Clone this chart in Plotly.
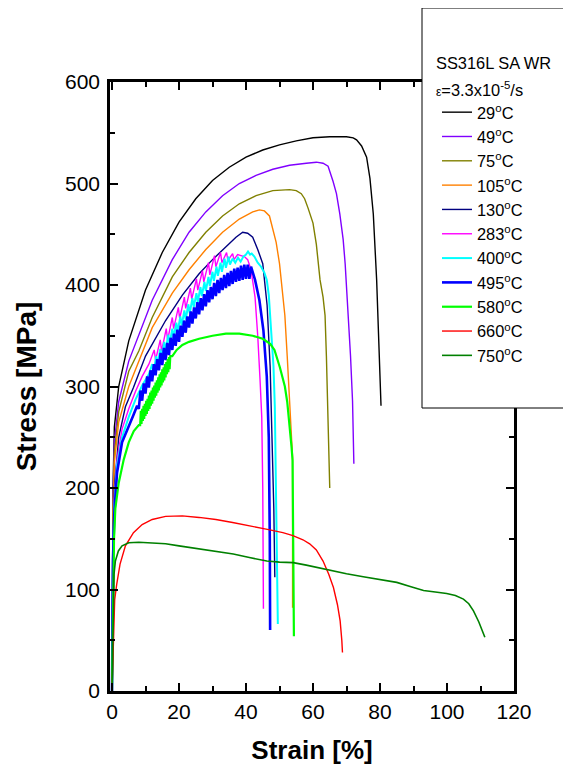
import plotly.graph_objects as go

# ---------------- data (strain %, stress MPa) ----------------
strain_29 = [0, 0.3, 0.7, 2, 5, 10, 15, 20, 25, 30, 35, 40, 45, 50, 55, 60, 65, 68, 70, 72, 73, 74.5, 76, 77, 78, 79, 79.5, 80, 80.3]
stress_29 = [0, 200, 260, 300, 345, 395, 432, 462, 485, 503, 516, 526, 533, 538, 542, 545, 546, 546, 546, 545, 543, 537, 526, 505, 470, 405, 355, 310, 281]

strain_49 = [0, 0.3, 0.7, 2, 5, 8, 12, 18, 23, 28, 33, 38, 43, 48, 53, 58, 61, 63, 64.5, 66, 67, 68, 69, 69.6, 70.5, 71.2, 71.8, 72.2]
stress_49 = [0, 190, 245, 285, 325, 350, 385, 425, 452, 472, 488, 500, 508, 514, 518, 520, 521, 520, 517, 502, 490, 470, 445, 421, 371, 330, 286, 224]

strain_75 = [0, 0.3, 0.7, 2, 5, 8, 12, 18, 23, 28, 33, 38, 43, 48, 53, 55, 56.5, 57.5, 58.5, 60, 61, 62.1, 63, 63.6, 64, 64.5, 65]
stress_75 = [0, 180, 235, 275, 315, 335, 368, 408, 432, 452, 468, 480, 488, 493, 494, 493, 490, 485, 476, 461, 440, 405, 388, 370, 330, 270, 200]

strain_105 = [0, 0.3, 0.7, 2, 5, 8, 12, 18, 23, 28, 33, 38, 42, 44, 45.5, 47, 48, 49, 50, 51, 51.6, 52.3, 53, 53.5, 53.9, 53.9]
stress_105 = [0, 170, 225, 265, 300, 325, 358, 392, 415, 435, 452, 465, 472, 474, 473, 468, 456, 442, 421, 392, 370, 330, 290, 255, 230, 82]

strain_130 = [0, 0.3, 0.7, 2, 4, 6.4, 10, 16, 21, 26, 30, 34, 37, 39, 40.5, 42, 43.5, 45, 46.3, 47.2, 47.8, 48.3, 48.6]
stress_130 = [0, 150, 200, 250, 280, 299, 330, 365, 390, 411, 425, 438, 447, 452, 451, 447, 435, 421, 380, 320, 253, 180, 112]

strain_283 = [0, 0.3, 0.7, 1.5, 3, 5, 7, 9, 11,
              12.6, 13.0, 14.4, 14.8, 16.2, 16.6, 18.0, 18.4, 19.8, 20.2, 21.6, 22.0, 23.4, 23.8,
              25.2, 25.6, 27.0, 27.4, 28.8, 29.2, 30.6, 31.0, 32.4, 32.8, 34.2, 34.6, 36.0, 36.4,
              37.5, 38.5, 39.5, 40.5, 41.5, 42.7, 43.5, 44.2, 44.7, 45.0, 45.2]
stress_283 = [0, 140, 190, 228, 258, 278, 295, 310, 322,
              336, 326, 346, 335, 357, 346, 368, 357, 378, 367, 388, 377, 397, 386,
              406, 395, 414, 403, 422, 410, 429, 418, 432, 422, 432, 424, 431, 425,
              430, 429, 428, 425, 415, 388, 350, 306, 270, 200, 81]

strain_400 = [0, 0.3, 0.7, 1.5, 3, 5, 7, 9, 11,
              12.0, 12.4, 13.2, 13.6, 14.4, 14.8, 15.6, 16.0, 16.8, 17.2, 18.0, 18.4, 19.2, 19.6,
              20.4, 20.8, 21.6, 22.0, 22.8, 23.2, 24.0, 24.4, 25.2, 25.6, 26.4, 26.8, 27.6, 28.0,
              28.8, 29.2, 30.0, 30.4, 31.2, 31.6, 32.4, 32.8, 33.6, 34.0, 34.8, 35.2, 36.0, 36.8,
              37.6, 38.4, 39.2, 40.0, 40.6, 41.2, 41.7,
              42.5, 43.5, 44.5, 45.5, 46.2, 46.8, 47.3, 47.8, 48.2, 48.6, 49.0, 49.3, 49.5]
stress_400 = [0, 135, 182, 222, 250, 270, 287, 301, 312,
              322, 314, 330, 321, 337, 328, 344, 335, 351, 342, 357, 348, 363, 354,
              369, 360, 375, 366, 381, 372, 387, 378, 392, 383, 398, 389, 403, 394,
              408, 399, 413, 404, 418, 409, 422, 413, 426, 417, 428, 420, 426, 422,
              427, 423, 428, 430, 433, 430, 431,
              428, 422, 418, 412, 405, 390, 365, 340, 320, 280, 200, 130, 66]

strain_495 = [0, 0.3, 0.7, 1.5, 3, 5, 6.4, 7.5,
              8.0, 8.5, 9.0, 9.5, 10.0, 10.5, 11.0, 11.5, 12.0, 12.5, 13.0, 13.5, 14.0, 14.5,
              15.0, 15.5, 16.0, 16.5, 17.0, 17.5, 18.0, 18.5, 19.0, 19.5, 20.0, 20.5, 21.0, 21.5,
              22.0, 22.5, 23.0, 23.5, 24.0, 24.5, 25.0, 25.5, 26.0, 26.5, 27.0, 27.5, 28.0, 28.5,
              29.0, 29.5, 30.0, 30.5, 31.0, 31.5, 32.0, 32.5, 33.0, 33.5, 34.0, 34.5, 35.0, 35.5,
              36.0, 36.5, 37.0, 37.5, 38.0, 38.5, 39.0, 39.5, 40.0, 40.5, 41.0, 41.5,
              42.7, 44.0, 45.2, 46.2, 46.8, 47.1, 47.2]
stress_495 = [0, 130, 175, 215, 245, 262, 272, 281,
              278, 296, 286, 303, 293, 310, 299, 316, 305, 322, 311, 327, 316, 333,
              321, 338, 326, 343, 331, 348, 336, 352, 340, 356, 344, 360, 349, 365,
              353, 369, 358, 374, 362, 378, 367, 383, 371, 387, 375, 391, 379, 395,
              383, 398, 386, 402, 389, 405, 392, 407, 395, 410, 397, 412, 399, 414,
              401, 416, 403, 417, 404, 419, 405, 420, 406, 420, 406, 418,
              405, 385, 355, 310, 250, 150, 60]

strain_580 = [0, 0.3, 0.6, 1, 2, 3.5, 5, 6.5, 8.0, 8.4,
              8.6, 8.8, 9.0, 9.2, 9.4, 9.6, 9.8, 10.0, 10.2, 10.4, 10.6, 10.8, 11.0, 11.2,
              11.4, 11.6, 11.8, 12.0, 12.2, 12.4, 12.6, 12.8, 13.0, 13.2, 13.4, 13.6, 13.8, 14.0,
              14.2, 14.4, 14.6, 14.8, 15.0, 15.2, 15.4, 15.6, 15.8, 16.0, 16.2, 16.4, 16.6, 16.8,
              17.0, 17.2, 17.4,
              18, 19.3, 21, 23, 26, 30, 34, 38, 42, 45, 47.2, 48.5, 50.1, 51, 51.6, 52.3, 53.1,
              53.6, 53.9, 54.1, 54.3]
stress_580 = [0, 100, 150, 180, 205, 228, 245, 256, 262, 262,
              276, 263, 278, 266, 281, 268, 283, 271, 286, 273, 288, 276, 291, 278,
              294, 281, 296, 283, 299, 286, 301, 289, 304, 291, 306, 294, 309, 296,
              312, 299, 314, 301, 317, 304, 319, 306, 322, 309, 324, 312, 327, 314,
              329, 317, 330,
              330, 336, 341, 344, 347, 350, 352, 352, 350, 347, 342, 336, 319, 308, 300, 285, 260,
              240, 227, 150, 54]

strain_660 = [0, 0.4, 0.8, 1.4, 2.4, 4, 6.4, 9, 12, 16, 21, 26, 31, 36, 41, 46, 51, 54, 57, 59, 61, 63,
              64.7, 66.1, 67.3, 68.1, 68.6, 68.8]
stress_660 = [0, 60, 90, 105, 125, 143, 156, 164, 169, 172, 172.5, 171, 169, 166, 163, 159.5, 156, 153, 149, 145, 139, 128,
              115, 102, 85, 69, 50, 38]

strain_750 = [0, 0.3, 0.6, 1, 1.9, 3, 5, 8, 12, 16, 20, 26.3, 31, 36.2, 41, 46.2, 50, 54.1, 58, 62, 65, 70, 75,
              80, 85, 89, 93, 96.5, 99.9, 102.5, 104.9, 106.5, 107.9, 109.5, 110.5, 111.3]
stress_750 = [0, 80, 115, 128, 138, 143, 146, 146.5, 146, 145, 143, 140, 137.5, 135, 131.5, 128, 127, 126.5, 124, 121, 118.5, 115.5, 112.5,
              110, 107, 103, 99, 97.5, 96, 94, 90.5, 86, 79, 68, 60, 53]

series_names = ["29<sup>o</sup>C", "49<sup>o</sup>C", "75<sup>o</sup>C", "105<sup>o</sup>C", "130<sup>o</sup>C",
                "283<sup>o</sup>C", "400<sup>o</sup>C", "495<sup>o</sup>C", "580<sup>o</sup>C", "660<sup>o</sup>C",
                "750<sup>o</sup>C"]
series_x = [strain_29, strain_49, strain_75, strain_105, strain_130, strain_283, strain_400, strain_495,
            strain_580, strain_660, strain_750]
series_y = [stress_29, stress_49, stress_75, stress_105, stress_130, stress_283, stress_400, stress_495,
            stress_580, stress_660, stress_750]
series_colors = ["#000000", "#8000FF", "#808000", "#FF8000", "#000080", "#FF00FF", "#00FFFF", "#0000FF",
                 "#00FF00", "#FF0000", "#008000"]
series_widths = [1.4, 1.4, 1.4, 1.4, 1.4, 1.4, 2.0, 2.6, 2.2, 1.4, 1.6]

x_ticks = [0, 20, 40, 60, 80, 100, 120]
y_ticks = [0, 100, 200, 300, 400, 500, 600]

# ---------------- figure ----------------
# the page body has an 8px margin; positions below are given in page pixels
OFF = 8
W, H = 571 - OFF, 767 - OFF
PLOT_L, PLOT_R, PLOT_T, PLOT_B = 110, 514, 82, 691  # page pixels of the plot frame
L, R, T, B = PLOT_L - OFF, W - (PLOT_R - OFF), PLOT_T - OFF, H - (PLOT_B - OFF)
pw, ph = W - L - R, H - T - B


def px_x(p):
    return (p - PLOT_L) / pw


def px_y(p):
    return (PLOT_B - p) / ph


fig = go.Figure()
for name, xs, ys, c, w in zip(series_names, series_x, series_y, series_colors, series_widths):
    fig.add_trace(go.Scatter(x=xs, y=ys, mode="lines", name=name,
                             line=dict(color=c, width=w)))

font_family = "Liberation Sans, Arial, sans-serif"

fig.update_layout(
    width=W, height=H,
    margin=dict(l=L, r=R, t=T, b=B, autoexpand=False),
    paper_bgcolor="white", plot_bgcolor="white",
    font=dict(family=font_family, color="black"),
    showlegend=True,
    legend=dict(x=px_x(437), y=px_y(95), xanchor="left", yanchor="top",
                bgcolor="rgba(0,0,0,0)", borderwidth=0,
                font=dict(size=16.4, family=font_family, color="black")),
    shapes=[dict(type="rect", xref="paper", yref="paper",
                 x0=px_x(422), x1=px_x(600), y0=px_y(408), y1=px_y(8),
                 line=dict(color="black", width=1), fillcolor="white", layer="above")],
    annotations=[
        dict(text="SS316L SA WR", xref="paper", yref="paper", x=px_x(434), y=px_y(63),
             xanchor="left", yanchor="middle", showarrow=False,
             font=dict(size=16.4, family=font_family, color="black")),
        dict(text="<span style='font-size:12px'>ε</span>=3.3x10<sup>-5</sup>/s", xref="paper", yref="paper",
             x=px_x(434), y=px_y(89), xanchor="left", yanchor="middle", showarrow=False,
             font=dict(size=16.4, family=font_family, color="black")),
    ],
)

axis_common = dict(
    showline=True, linewidth=2.5, linecolor="black", mirror="allticks",
    ticks="inside", ticklen=8, tickwidth=2, tickcolor="black",
    showgrid=False, zeroline=False,
    tickfont=dict(size=21, family=font_family, color="black"),
)

fig.update_xaxes(range=[-0.6, 120], tickvals=x_ticks, ticktext=[str(v) for v in x_ticks],
                 minor=dict(ticks="inside", ticklen=5, tickwidth=2, tickcolor="black", dtick=10, tick0=0),
                 title=dict(text="<b>Strain [%]</b>", standoff=19,
                            font=dict(size=26, family=font_family, color="black")),
                 **axis_common)
fig.update_yaxes(range=[0, 600], tickvals=y_ticks, ticktext=[str(v) for v in y_ticks],
                 ticklabelstandoff=3,
                 minor=dict(ticks="inside", ticklen=5, tickwidth=2, tickcolor="black", dtick=50, tick0=0),
                 title=dict(text="<b>Stress [MPa]</b>", standoff=21,
                            font=dict(size=28, family=font_family, color="black")),
                 **axis_common)

fig.write_html("out.html")
